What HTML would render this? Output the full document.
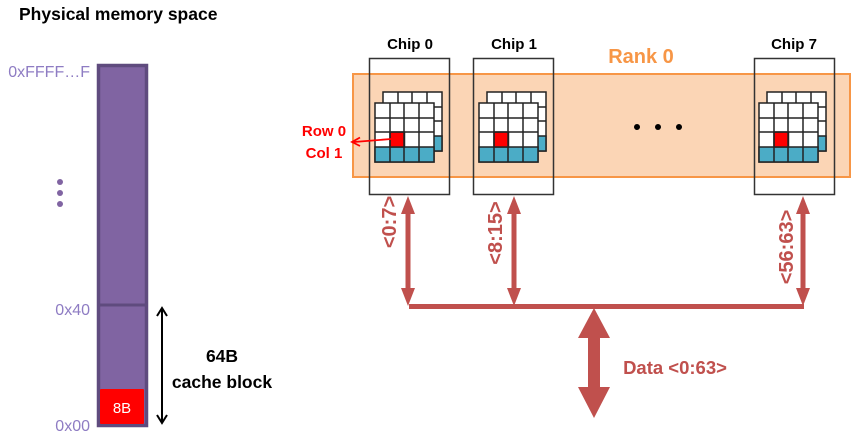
<!DOCTYPE html>
<html><head><meta charset="utf-8"><style>
html,body{margin:0;padding:0;background:#fff;}
svg{display:block;font-family:"Liberation Sans",Arial,sans-serif;}
</style></head><body>
<svg width="859" height="441" viewBox="0 0 859 441" xmlns="http://www.w3.org/2000/svg">
<defs>
<g id="grid">
  <g stroke="#222" stroke-width="1.5">
    <rect x="383" y="92" width="59" height="59" fill="#fff"/>
    <rect x="383" y="136" width="59" height="15" fill="#4bacc6"/>
    <line x1="398" y1="92" x2="398" y2="151"/><line x1="412" y1="92" x2="412" y2="151"/><line x1="427" y1="92" x2="427" y2="151"/>
    <line x1="383" y1="107" x2="442" y2="107"/><line x1="383" y1="121" x2="442" y2="121"/>
  </g>
  <g stroke="#222" stroke-width="1.5">
    <rect x="375" y="103" width="59" height="59" fill="#fff"/>
    <rect x="375" y="147" width="59" height="15" fill="#4bacc6"/>
    <rect x="390" y="132" width="14.5" height="15" fill="#ff0000"/>
    <line x1="390" y1="103" x2="390" y2="162"/><line x1="404" y1="103" x2="404" y2="162"/><line x1="419" y1="103" x2="419" y2="162"/>
    <line x1="375" y1="118" x2="434" y2="118"/><line x1="375" y1="132" x2="434" y2="132"/>
  </g>
</g>
<g id="varrow" fill="#c0504d">
  <polygon points="0,0 7,18 2.5,18 2.5,92 7,92 0,110 -7,92 -2.5,92 -2.5,18 -7,18"/>
</g>
</defs>

<text x="19" y="20" font-size="17.5" font-weight="bold" fill="#000">Physical memory space</text>
<rect x="98.5" y="65.5" width="48" height="360" fill="#8064a2" stroke="#5f4b7e" stroke-width="3.5"/>
<line x1="98" y1="305" x2="147" y2="305" stroke="#5f4b7e" stroke-width="3"/>
<rect x="100" y="389" width="44" height="35" fill="#ff0000" rx="1"/>
<text x="122" y="413" font-size="15" fill="#fff" text-anchor="middle">8B</text>
<g fill="#8e7cc3" font-size="16">
<text x="90" y="77" text-anchor="end">0xFFFF…F</text>
<text x="90" y="315" text-anchor="end">0x40</text>
<text x="90" y="431" text-anchor="end">0x00</text>
</g>
<g fill="#8064a2"><circle cx="60" cy="182" r="3"/><circle cx="60" cy="193" r="3"/><circle cx="60" cy="204" r="3"/></g>
<g stroke="#000" stroke-width="2" fill="none">
<line x1="162" y1="310" x2="162" y2="421"/>
<polyline points="157,316 162,308 167,316"/>
<polyline points="157,415 162,423 167,415"/>
</g>
<text x="222" y="362" font-size="17.5" font-weight="bold" text-anchor="middle">64B</text>
<text x="222" y="388" font-size="17.5" font-weight="bold" text-anchor="middle">cache block</text>

<rect x="353" y="74" width="497" height="103" fill="#fbd5b5" stroke="#f79646" stroke-width="2"/>
<text x="641" y="63" font-size="20" font-weight="bold" fill="#f79646" text-anchor="middle">Rank 0</text>
<g fill="#000"><circle cx="637" cy="127" r="3"/><circle cx="658" cy="127" r="3"/><circle cx="679" cy="127" r="3"/></g>

<g fill="none" stroke="#333" stroke-width="1.5">
<rect x="369.5" y="58.5" width="80" height="136"/>
<rect x="473.5" y="58.5" width="80" height="136"/>
<rect x="754.5" y="58.5" width="80" height="136"/>
</g>
<g font-size="15" font-weight="bold" fill="#000" text-anchor="middle">
<text x="410" y="49">Chip 0</text>
<text x="514" y="49">Chip 1</text>
<text x="794" y="49">Chip 7</text>
</g>
<use href="#grid"/>
<use href="#grid" transform="translate(104,0)"/>
<use href="#grid" transform="translate(384,0)"/>

<line x1="391" y1="139" x2="354" y2="142" stroke="#ff0000" stroke-width="1.8"/>
<polyline points="360,137.5 352,142 360,146" fill="none" stroke="#ff0000" stroke-width="1.8"/>
<text x="324" y="136" font-size="15" font-weight="bold" fill="#ff0000" text-anchor="middle">Row 0</text>
<text x="324" y="158" font-size="15" font-weight="bold" fill="#ff0000" text-anchor="middle">Col 1</text>

<use href="#varrow" transform="translate(408,196)"/>
<use href="#varrow" transform="translate(514,196)"/>
<use href="#varrow" transform="translate(803,196)"/>
<rect x="409" y="304" width="395" height="5" fill="#c0504d"/>
<polygon fill="#c0504d" points="594,308 610,338 600,338 600,387 610,387 594,418 578,387 588,387 588,338 578,338"/>
<g font-size="20" font-weight="bold" fill="#c0504d" text-anchor="middle">
<text transform="translate(396,222) rotate(-90)">&lt;0:7&gt;</text>
<text transform="translate(502,233) rotate(-90)">&lt;8:15&gt;</text>
<text transform="translate(793,247) rotate(-90)">&lt;56:63&gt;</text>
</g>
<text x="675" y="374" font-size="18.5" font-weight="bold" fill="#c0504d" text-anchor="middle">Data &lt;0:63&gt;</text>
</svg>
</body></html>
